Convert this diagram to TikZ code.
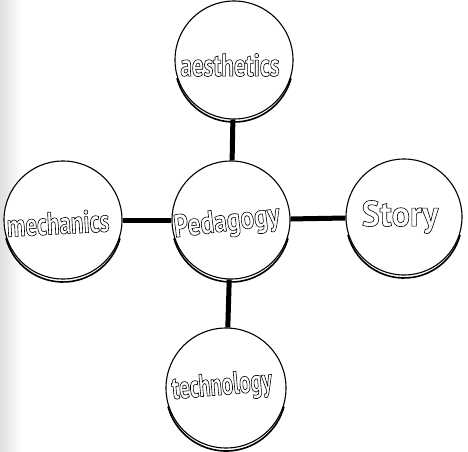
\documentclass[tikz,border=0pt]{standalone}
\usepackage{fontspec}
\setmainfont{PT Sans}
\newfontfamily\lblA[FakeStretch=0.72]{PT Sans}
\newfontfamily\lblB[FakeStretch=0.8]{PT Sans}
\newfontfamily\lblC[FakeStretch=0.66]{PT Sans}
\newfontfamily\lblD[FakeStretch=0.95]{PT Sans}
\usetikzlibrary{calc}
\newcommand{\outl}[1]{\special{pdf:literal direct 1 Tr 0.6 w}#1\special{pdf:literal direct 0 Tr}}
\tikzset{
  disk/.style={circle, draw, line width=1.1pt, minimum size=118pt, inner sep=0pt, fill=white},
  bar/.style={line width=5pt},
  lbl/.style={font=\lblA\fontsize{32}{34}\selectfont\bfseries, inner sep=1pt}
}
\newcommand{\diskedge}[2]{%
  \draw[line width=1.6pt] ($(#1.center)+(0,-3)$) ++(195:#2) arc (195:345:#2);}
\begin{document}
\begin{tikzpicture}[x=1pt,y=1pt]
\useasboundingbox (0,0) rectangle (468,451);
\shade[left color=gray!25, right color=white] (0,0) rectangle (22,451);
% nodes
\node[disk] (top) at (234,391) {};
\node[disk] (ped) at (231,231) {};
\node[disk] (mech) at (63,231) {};
\node[disk, minimum size=116pt] (story) at (404,234) {};
\node[disk, minimum size=120pt] (tech) at (226,63) {};
% connectors
\draw[bar] (top) -- (ped);
\draw[bar] (ped) -- (tech);
\draw[bar] (mech) -- (ped);
\draw[bar] (ped) -- (story);
% disk thickness
\foreach \n/\r in {top/59,ped/59,mech/59,story/58,tech/60}{
  \diskedge{\n}{\r}
}
% labels
\node[lbl, font=\lblB\fontsize{32}{34}\selectfont\bfseries, rotate=7] (tped) at (227,228) {\outl{Pedagogy}};
\node[lbl] (taes) at (230,386) {\outl{aesthetics}};
\node[lbl, rotate=3] (tmech) at (58,228) {\outl{mechanics}};
\node[lbl, font=\lblD\fontsize{36}{38}\selectfont\bfseries] (tstory) at (400,234) {\outl{Story}};
\node[lbl, font=\lblC\fontsize{32}{34}\selectfont\bfseries, rotate=5] (ttech) at (222,64) {\outl{technology}};
\end{tikzpicture}
\end{document}
